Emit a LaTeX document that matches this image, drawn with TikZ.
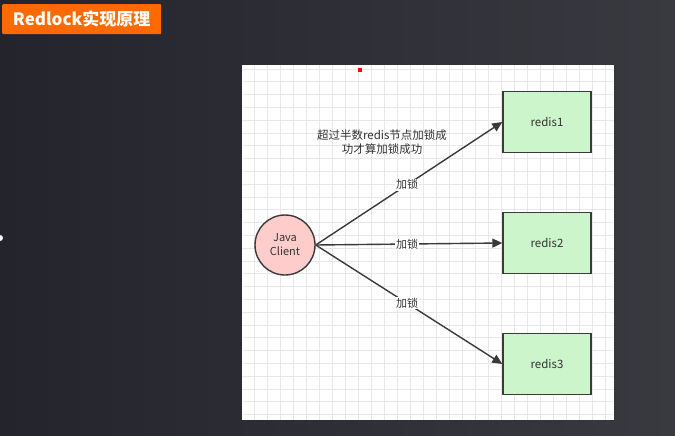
\documentclass[tikz,border=0pt]{standalone}
\usepackage{fontspec}
\setmainfont{Noto Sans CJK SC}
\usetikzlibrary{arrows.meta}
\definecolor{bgL}{HTML}{24252C}
\definecolor{bgR}{HTML}{393A40}
\definecolor{titleor}{HTML}{FF6A00}
\definecolor{gridc}{HTML}{E8E8EC}
\definecolor{pinkf}{HTML}{FFCCCC}
\definecolor{greenf}{HTML}{CCF5CC}
\definecolor{edgec}{HTML}{3A3A3A}
\definecolor{txtc}{HTML}{333333}
\tikzset{
  redisbox/.style={draw=edgec, line width=1.4pt, fill=greenf, minimum width=88pt, minimum height=61pt, inner sep=0pt, font=\fontsize{11.5}{13}\selectfont, text=txtc},
  clientnode/.style={circle, draw=edgec, line width=1.4pt, fill=pinkf, minimum size=60pt, inner sep=0pt, align=center, font=\fontsize{11}{14}\selectfont, text=txtc},
  conn/.style={draw=edgec, line width=1.4pt, -{Triangle[length=10pt,width=9pt]}},
  lbl/.style={fill=white, inner sep=1pt, font=\fontsize{11}{12}\selectfont, text=txtc},
}
\begin{document}
\begin{tikzpicture}[x=1pt,y=-1pt]
\useasboundingbox (0,0) rectangle (675,436);
\shade[left color=bgL, right color=bgR] (0,0) rectangle (675,436);
% title
\node[fill=titleor, rounded corners=1pt, minimum width=159pt, minimum height=30pt, inner sep=0pt, anchor=north west, text=white, font=\fontsize{17}{19}\selectfont\bfseries] (title) at (2,4) {Redlock实现原理};
% left small dot
\fill[white] (0,238) circle (3);
% panel
\fill[white] (242,65) rectangle (614,420);
\begin{scope}
\clip (242,65) rectangle (614,420);
\foreach \i in {0,...,28} {\draw[gridc, line width=0.9pt] ({254+13*\i},65) -- ({254+13*\i},420);}
\foreach \j in {0,...,27} {\draw[gridc, line width=0.9pt] (242,{69+12.8*\j}) -- (614,{69+12.8*\j});}
\end{scope}
\fill[red] (358,68) rectangle (362,72);
% nodes
\node[clientnode] (client) at (285,245) {Java\\Client};
\node[redisbox] (r1) at (547,122) {redis1};
\node[redisbox] (r2) at (547,243) {redis2};
\node[redisbox] (r3) at (547,364) {redis3};
% connectors
\draw[conn] (client.east) -- (r1.west) node[lbl, pos=0.49] {加锁};
\draw[conn] (client.east) -- (r2.west) node[lbl, pos=0.49] {加锁};
\draw[conn] (client.east) -- (r3.west) node[lbl, pos=0.49] {加锁};
% note
\node[align=center, font=\fontsize{11.5}{14}\selectfont, text=txtc] (note) at (382,142) {超过半数redis节点加锁成\\功才算加锁成功};
\end{tikzpicture}
\end{document}
